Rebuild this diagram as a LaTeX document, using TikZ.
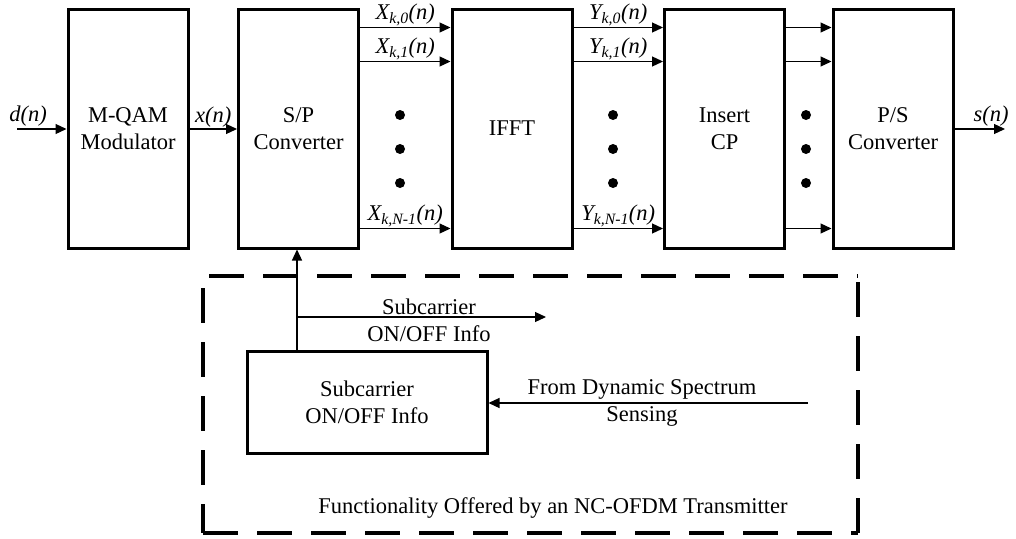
\documentclass[tikz,border=0pt]{standalone}
\usepackage{fontspec}
\setmainfont{Liberation Serif}
\usetikzlibrary{arrows.meta}
\newcommand{\sgl}[2]{\textit{#1\textsubscript{#2}(n)}}
\begin{document}
\begin{tikzpicture}[x=1pt,y=-1pt,
  font=\fontsize{22.5}{27}\selectfont,
  blk/.style={draw, line width=3pt, minimum width=120pt, minimum height=239pt,
              align=center, inner sep=0pt},
  sig/.style={line width=1.2pt, -{Triangle[length=11pt,width=10pt]}},
  lbl/.style={inner sep=1pt},
  bigdot/.style={circle, fill, inner sep=0pt, minimum size=10pt},
  frame/.style={line width=3.5pt, dash pattern=on 35pt off 19pt}
]
\useasboundingbox (0,0) rectangle (1016,538);

% processing chain
\node[blk] (qam)  at (128,128.5)   {M-QAM\\Modulator};
\node[blk] (sp)   at (298.5,128.5) {S/P\\Converter};
\node[blk] (ifft) at (512,128.5)   {IFFT};
\node[blk] (cp)   at (724.5,128.5) {Insert\\CP};
\node[blk] (ps)   at (893,128.5)   {P/S\\Converter};

% serial input / output
\coordinate (din)  at (17,129);
\coordinate (sout) at (1005,129);
\draw[sig] (din) -- (qam.west |- din);
\node[lbl, anchor=south] (dlbl) at (28,127) {\textit{d(n)}};
\draw[sig] (qam.east |- din) -- node[lbl, above] (xlbl) {\textit{x(n)}} (sp.west |- din);
\draw[sig] (ps.east |- sout) -- (sout);
\node[lbl, anchor=south] (slbl) at (991,127) {\textit{s(n)}};

% parallel branches
\coordinate (r0) at (0,27.5);
\coordinate (r1) at (0,61.5);
\coordinate (rN) at (0,228.5);
\draw[sig] (sp.east |- r0) -- node[lbl, above] (x0) {\sgl{X}{k,0}} (ifft.west |- r0);
\draw[sig] (sp.east |- r1) -- node[lbl, above] (x1) {\sgl{X}{k,1}} (ifft.west |- r1);
\draw[sig] (sp.east |- rN) -- node[lbl, above] (xN) {\sgl{X}{k,N-1}} (ifft.west |- rN);
\draw[sig] (ifft.east |- r0) -- node[lbl, above] (y0) {\sgl{Y}{k,0}} (cp.west |- r0);
\draw[sig] (ifft.east |- r1) -- node[lbl, above] (y1) {\sgl{Y}{k,1}} (cp.west |- r1);
\draw[sig] (ifft.east |- rN) -- node[lbl, above] (yN) {\sgl{Y}{k,N-1}} (cp.west |- rN);
\draw[sig] (cp.east |- r0) -- (ps.west |- r0);
\draw[sig] (cp.east |- r1) -- (ps.west |- r1);
\draw[sig] (cp.east |- rN) -- (ps.west |- rN);

% ellipsis dots
\foreach \x/\n in {400/a,613/b,806/c}
  \foreach \y/\m in {115/1,149/2,183/3}
    \node[bigdot] (dot\n\m) at (\x,\y) {};

% dashed frame of the NC-OFDM part, one side at a time
\coordinate (ftl) at (203,276);
\coordinate (ftr) at (858,276);
\coordinate (fbl) at (203,533);
\coordinate (fbr) at (858,533);
\draw[frame, dash phase=48pt] (ftl) -- (ftr);
\draw[frame, dash phase=48pt] (ftr) -- (fbr);
\draw[frame] (fbl) -- (fbr);
\draw[frame, dash phase=42pt] (ftl) -- (fbl);

% subcarrier control
\node[draw, line width=3pt, minimum width=240pt, minimum height=102pt,
      align=center, inner sep=0pt] (onoff) at (367,402) {Subcarrier\\ON/OFF Info};
\coordinate (tap) at (297,317);
\coordinate (tapend) at (546,317);
\draw[sig] (onoff.north -| tap) -- (sp.south -| tap);
\draw[sig] (tap) -- (tapend);
\node[lbl, align=center] (taplbl) at (429,320.5) {Subcarrier\\ON/OFF Info};
\coordinate (dss) at (808,403);
\draw[sig] (dss) -- (onoff.east |- dss);
\node[lbl, align=center] (dsslbl) at (642,403) {From Dynamic Spectrum\\Sensing};
\node[lbl] (caption) at (553,508) {Functionality Offered by an NC-OFDM Transmitter};
\end{tikzpicture}
\end{document}
